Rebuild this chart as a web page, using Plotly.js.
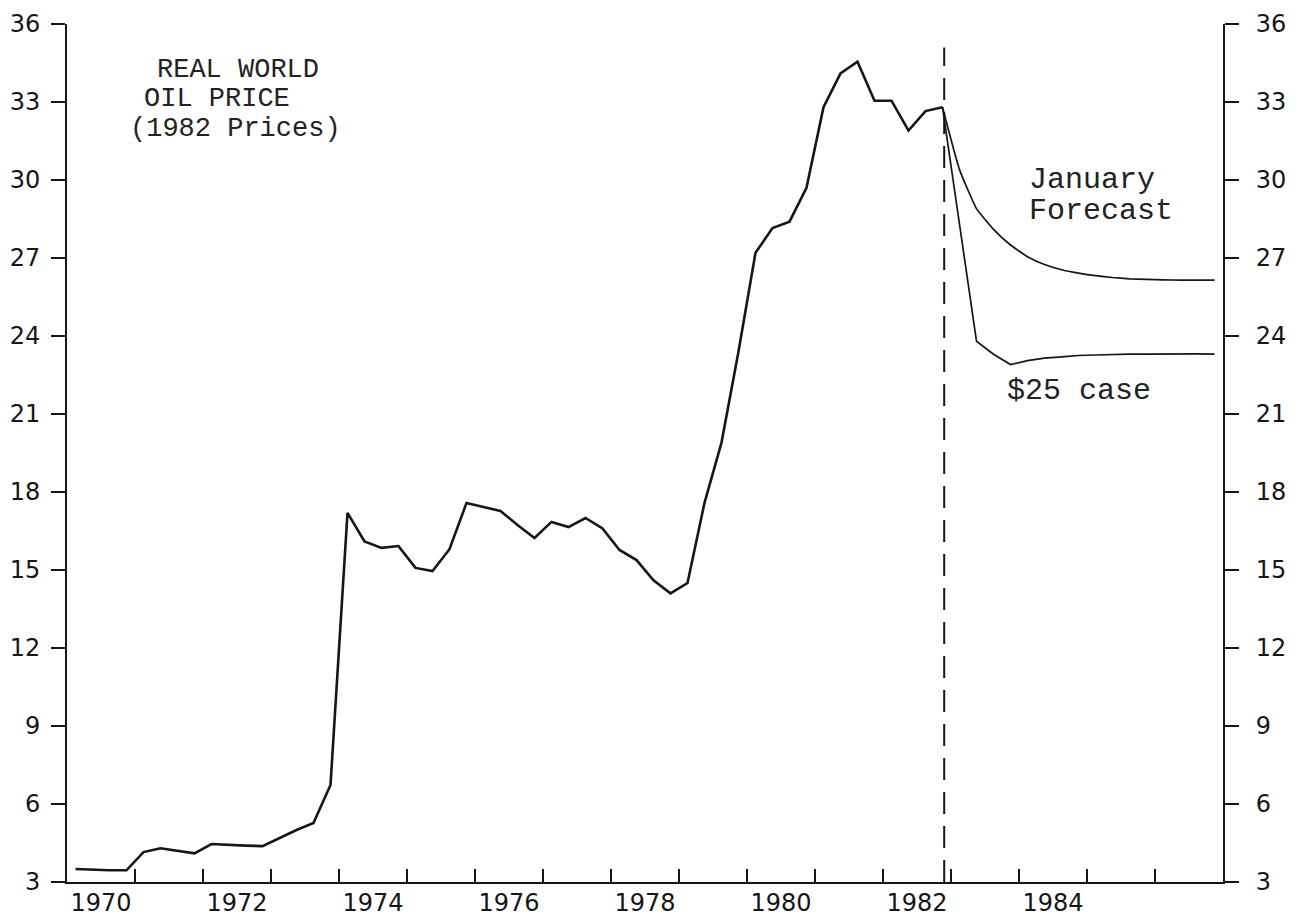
<!DOCTYPE html>
<html>
<head>
<meta charset="utf-8">
<script src="https://cdn.plot.ly/plotly-3.0.1.min.js"></script>
<style>
  html, body { margin: 0; padding: 0; background: #ffffff; }
  #chart { width: 1300px; height: 919px; }
</style>
</head>
<body>
<div id="chart"></div>
<script>
// ---- Data (real world oil price, 1982 prices, quarterly) ----
const histStartYear = 1970;            // first quarter = 1970 Q1
const histPrice = [
  3.50, 3.47, 3.45, 3.45,      // 1970
  4.15, 4.30, 4.20, 4.10,      // 1971
  4.46, 4.42, 4.40, 4.38,      // 1972
  4.70, 5.00, 5.27, 6.73,      // 1973
  17.20, 16.10, 15.85, 15.92,  // 1974
  15.08, 14.96, 15.80, 17.58,  // 1975
  17.42, 17.27, 16.73, 16.23,  // 1976
  16.85, 16.65, 17.00, 16.60,  // 1977
  15.77, 15.38, 14.60, 14.10,  // 1978
  14.50, 17.58, 19.90, 23.40,  // 1979
  27.20, 28.15, 28.40, 29.70,  // 1980
  32.80, 34.10, 34.55, 33.05,  // 1981
  33.05, 31.90, 32.65, 32.80   // 1982
];
// forecasts start from the last historical quarter (1982 Q4)
const forecastStartYear = 1982.75;
const januaryForecast = [32.80,
  30.40, 28.90, 28.10, 27.50,  // 1983
  27.05, 26.75, 26.55, 26.42,  // 1984
  26.32, 26.25, 26.20, 26.18,  // 1985
  26.16, 26.15, 26.15, 26.15   // 1986
];
const case25Forecast = [32.80,
  28.30, 23.80, 23.30, 22.90,  // 1983
  23.05, 23.15, 23.20, 23.25,  // 1984
  23.27, 23.29, 23.30, 23.30,  // 1985
  23.31, 23.31, 23.31, 23.30   // 1986
];
const forecastLineYear = 1982.9;       // dashed divider
const yearTicks = [1971,1972,1973,1974,1975,1976,1977,1978,1979,1980,1981,1982,1983,1984,1985,1986];
const yearLabels = ['1970','1972','1974','1976','1978','1980','1982','1984'];
const priceTicks = [3,6,9,12,15,18,21,24,27,30,33,36];
const priceTickText = ['3','6','9','12','15','18','21','24','27','30','33','36'];

// quarter mid-points
function quarterX(startYear, n) {
  const xs = [];
  for (let i = 0; i < n; i++) xs.push(startYear + (i + 0.5) / 4);
  return xs;
}
const histX = quarterX(histStartYear, histPrice.length);
const fcX = quarterX(forecastStartYear, januaryForecast.length);
const labelX = yearLabels.map(s => Number(s) + 0.5);

const INK = '#161616';
const tickFont = { family: 'DejaVu Sans, Arial, sans-serif', size: 24, color: INK };
const typeFont = { family: 'Liberation Mono, Courier New, monospace', size: 27, color: '#222' };
const typeFontR = { family: 'Liberation Mono, Courier New, monospace', size: 30, color: '#222' };

const traces = [
  { x: histX, y: histPrice, mode: 'lines', line: { color: INK, width: 2.6 },
    hoverinfo: 'skip', showlegend: false },
  { x: fcX, y: januaryForecast, mode: 'lines', line: { color: INK, width: 1.7, shape: 'spline', smoothing: 0.4 },
    hoverinfo: 'skip', showlegend: false },
  { x: fcX, y: case25Forecast, mode: 'lines', line: { color: INK, width: 1.7 },
    hoverinfo: 'skip', showlegend: false },
  { x: [1970, 1987], y: [3, 36], xaxis: 'x2', yaxis: 'y2', mode: 'markers',
    marker: { opacity: 0 }, hoverinfo: 'skip', showlegend: false }
];

const layout = {
  width: 1300, height: 919,
  margin: { l: 67, r: 77, t: 24, b: 37, pad: 0 },
  paper_bgcolor: '#ffffff', plot_bgcolor: '#ffffff',
  showlegend: false,
  xaxis: {
    range: [1970, 1987], tickmode: 'array', tickvals: yearTicks,
    showticklabels: false, ticks: 'inside', ticklen: 13, tickwidth: 2, tickcolor: INK,
    showline: true, linewidth: 2, linecolor: INK, showgrid: false, zeroline: false,
    fixedrange: true
  },
  xaxis2: {
    overlaying: 'x', side: 'bottom', anchor: 'y', range: [1970, 1987],
    tickmode: 'array', tickvals: labelX, ticktext: yearLabels, ticks: '',
    ticklabelstandoff: 4, tickfont: tickFont,
    showline: false, showgrid: false, zeroline: false, fixedrange: true
  },
  yaxis: {
    range: [3, 36], tickmode: 'array', tickvals: priceTicks, ticktext: priceTickText,
    ticks: 'outside', ticklen: 14, tickwidth: 2, tickcolor: INK,
    ticklabelstandoff: 6, tickfont: tickFont,
    showline: true, linewidth: 2, linecolor: INK, showgrid: false, zeroline: false,
    fixedrange: true
  },
  yaxis2: {
    overlaying: 'y', side: 'right', anchor: 'x', range: [3, 36],
    tickmode: 'array', tickvals: priceTicks, ticktext: priceTickText,
    ticks: 'outside', ticklen: 14, tickwidth: 2, tickcolor: INK,
    ticklabelstandoff: 12, tickfont: tickFont,
    showline: true, linewidth: 2, linecolor: INK, showgrid: false, zeroline: false,
    fixedrange: true
  },
  shapes: [
    { type: 'line', xref: 'x', yref: 'y', x0: forecastLineYear, x1: forecastLineYear,
      y0: 3, y1: 35.1, line: { color: INK, width: 2, dash: '22px,12px' } }
  ],
  annotations: [
    { text: 'REAL WORLD', x: 1971.3, y: 34.25, xref: 'x', yref: 'y', xanchor: 'left', yanchor: 'middle', showarrow: false, font: typeFont },
    { text: 'OIL PRICE', x: 1971.1, y: 33.1, xref: 'x', yref: 'y', xanchor: 'left', yanchor: 'middle', showarrow: false, font: typeFont },
    { text: '(1982 Prices)', x: 1970.9, y: 31.95, xref: 'x', yref: 'y', xanchor: 'left', yanchor: 'middle', showarrow: false, font: typeFont },
    { text: 'January', x: 1984.12, y: 30.0, xref: 'x', yref: 'y', xanchor: 'left', yanchor: 'middle', showarrow: false, font: typeFontR },
    { text: 'Forecast', x: 1984.12, y: 28.8, xref: 'x', yref: 'y', xanchor: 'left', yanchor: 'middle', showarrow: false, font: typeFontR },
    { text: '$25 case', x: 1983.8, y: 21.9, xref: 'x', yref: 'y', xanchor: 'left', yanchor: 'middle', showarrow: false, font: typeFontR }
  ]
};

Plotly.newPlot('chart', traces, layout, { staticPlot: true, displayModeBar: false });
</script>
</body>
</html>
